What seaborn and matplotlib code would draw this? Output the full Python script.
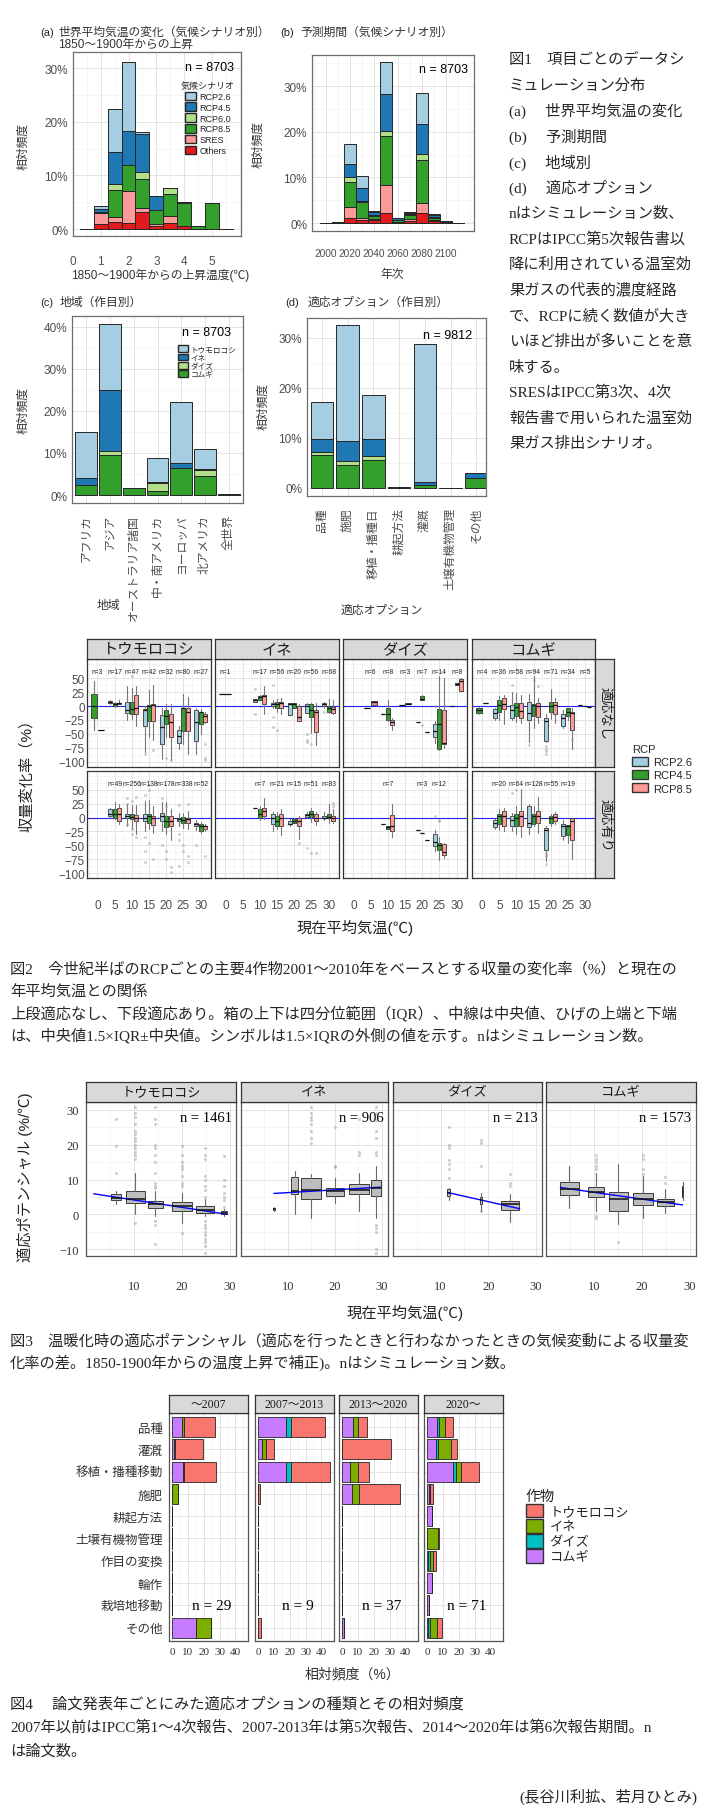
import matplotlib
matplotlib.use("Agg")
import matplotlib.pyplot as plt
from matplotlib.patches import Patch
from matplotlib.ticker import MultipleLocator
import seaborn as sns
import numpy as np

W, H = 705, 1815

sns.set_theme(style="whitegrid")
plt.rcParams["font.family"] = ["Liberation Sans", "Noto Sans CJK JP", "DejaVu Sans"]
SERIF = ["Liberation Serif", "Noto Sans CJK JP", "DejaVu Sans"]

# ---------------- Fig 1 data ----------------
scenarios = ["RCP2.6", "RCP4.5", "RCP6.0", "RCP8.5", "SRES", "Others"]

temp_bins = [0.5, 1.0, 1.5, 2.0, 2.5, 3.0, 3.5, 4.0, 4.5, 5.0, 5.5]
a_others = [0, 0.9, 1.4, 1.1, 3.1, 0.6, 1.05, 0.6, 0, 0, 0]
a_sres = [0, 2.1, 0.8, 6.0, 0.75, 0.3, 1.35, 0, 0, 0, 0]
a_rcp85 = [0, 0.2, 5.0, 4.9, 5.55, 2.7, 4.2, 4.2, 0.5, 4.9, 0]
a_rcp60 = [0, 0, 1.2, 0, 1.3, 0, 1.0, 0.3, 0, 0, 0]
a_rcp45 = [0, 0.6, 6.0, 6.2, 7.0, 2.5, 0, 0, 0, 0, 0]
a_rcp26 = [0, 0.4, 8.0, 13.0, 0.3, 0, 0.1, 0, 0, 0, 0]

years = [2000, 2010, 2020, 2030, 2040, 2050, 2060, 2070, 2080, 2090, 2100, 2110]
b_others = [0, 0.1, 1.2, 0.65, 0.6, 2.3, 0.3, 0.5, 2.3, 0.5, 0.2, 0]
b_sres = [0, 0, 2.2, 0.55, 0.2, 6.1, 0, 0.3, 2.1, 0.1, 0, 0]
b_rcp85 = [0, 0.2, 5.5, 3.5, 0.8, 10.7, 0.4, 1.0, 9.3, 0.6, 0.3, 0]
b_rcp60 = [0, 0, 1.2, 0.1, 0.2, 1.1, 0, 0.1, 1.4, 0.2, 0, 0]
b_rcp45 = [0, 0, 2.8, 2.8, 0.6, 8.0, 0.3, 0.3, 6.6, 0.4, 0, 0]
b_rcp26 = [0, 0, 4.3, 2.8, 0.2, 7.0, 0.1, 0.2, 6.7, 0.2, 0, 0]

crops = ["トウモロコシ", "イネ", "ダイズ", "コムギ"]

regions = ["アフリカ", "アジア", "オーストラリア諸国", "中・南アメリカ", "ヨーロッパ", "北アメリカ", "全世界"]
c_wheat = [2.4, 9.5, 1.6, 1.0, 6.5, 4.6, 0.3]
c_soy = [0, 0.9, 0, 1.9, 0, 1.3, 0]
c_rice = [1.7, 14.5, 0, 0.3, 1.0, 0.2, 0]
c_maize = [11.0, 15.7, 0, 5.7, 14.7, 4.8, 0]

options = ["品種", "施肥", "移植・播種日", "耕起方法", "灌漑", "土壌有機物管理", "その他"]
d_wheat = [6.6, 4.6, 5.6, 0, 0.7, 0, 2.0]
d_soy = [0.6, 0.8, 0.8, 0, 0, 0, 0]
d_rice = [2.7, 4.1, 3.5, 0.1, 0.5, 0, 1.0]
d_maize = [7.4, 23.1, 8.7, 0.1, 27.7, 0.1, 0]

# ---------------- Fig 2 data ----------------
# (temperature, rcp index, whisker low, q1, median, q3, whisker high)
rcps = ["RCP2.6", "RCP4.5", "RCP8.5"]
box_maize_no = [
    (0, 1, -43, -22, 0, 22, 44), (0, 2, -42, -42, -42, -42, -42),
    (5, 0, 4, 5, 7, 9, 10), (5, 1, -2, 0, 3, 6, 8), (5, 2, 3, 4, 5, 6, 10),
    (10, 0, -25, -12, -8, 8, 35), (10, 1, -24, -15, -6, 8, 32), (10, 2, -35, -14, -3, 19, 35),
    (15, 0, -82, -35, -7, -6, 0), (15, 1, -56, -26, 0, 2, 29), (15, 2, -60, -26, 2, 3, 38),
    (20, 0, -94, -68, -38, -16, -3), (20, 1, -56, -32, -18, -8, 3), (20, 2, -97, -55, -29, -14, 3),
    (25, 0, -76, -66, -54, -43, -35), (25, 1, -68, -45, -4, -3, 21), (25, 2, -85, -44, -10, -3, 16),
    (30, 0, -85, -62, -29, -8, -3), (30, 1, -50, -32, -11, -10, -5), (30, 2, -30, -29, -18, -15, -10),
]
box_rice_no = [
    (0, 1, 22, 22, 22, 22, 22),
    (10, 0, 8, 8, 10, 13, 13), (10, 1, 10, 11, 16, 17, 20), (10, 2, -15, 3, 18, 19, 35),
    (15, 0, -3, 0, 4, 6, 10), (15, 1, -10, -3, 4, 8, 12), (15, 2, -15, -4, 6, 8, 15),
    (20, 0, -16, -16, 3, 5, 5), (20, 1, -4, -4, 3, 5, 6), (20, 2, -26, -26, -19, 0, 3),
    (25, 0, -13, -13, 0, 3, 6), (25, 1, -48, -19, -8, 3, 5), (25, 2, -70, -47, -10, -8, 5),
    (30, 0, -3, 0, 3, 6, 8), (30, 1, -12, -10, -4, 0, 13), (30, 2, -14, -12, -6, -2, 10),
]
box_soy_no = [
    (5, 0, -3, -3, -3, -3, -3), (5, 2, 1, 1, 7, 9, 9),
    (10, 0, -15, -15, -15, -15, -15), (10, 1, -27, -25, -15, -4, 10), (10, 2, -43, -34, -28, -25, -21),
    (15, 0, 2, 2, 2, 2, 2), (15, 2, 3, 3, 4, 6, 6),
    (20, 0, -28, -28, -28, -28, -28), (20, 1, 10, 10, 13, 18, 20), (20, 2, -47, -47, -47, -47, -47),
    (25, 0, -67, -55, -45, -32, -26), (25, 1, -78, -76, -32, -6, 53), (25, 2, -75, -68, -66, -8, 50),
    (30, 0, 0, 0, 0, 0, 0), (30, 1, 37, 37, 39, 41, 41), (30, 2, 26, 26, 44, 49, 50),
]
box_wheat_no = [
    (0, 1, -15, -12, -8, -3, -2), (0, 2, 6, 6, 6, 6, 6),
    (5, 0, -25, -21, -12, -6, -3), (5, 1, -25, -10, 1, 10, 18), (5, 2, -33, -5, 4, 14, 20),
    (10, 0, -25, -21, -8, 2, 25), (10, 1, -28, -18, -2, 6, 24), (10, 2, -30, -22, -9, 6, 20),
    (15, 0, -65, -25, -12, 8, 22), (15, 1, -40, -18, 2, 4, 53), (15, 2, -30, -19, 0, 6, 15),
    (20, 0, -64, -62, -26, -22, -15), (20, 1, -23, -10, 0, 8, 30), (20, 2, -30, -15, 1, 8, 15),
    (25, 0, -40, -35, -22, -14, -7), (25, 1, -25, -18, -10, -3, -3), (25, 2, -76, -43, -12, -10, -3),
    (30, 0, 2, 2, 2, 2, 2), (30, 1, 0, 0, 0, 0, 0), (30, 2, -2, -2, -2, -2, -2),
]
box_maize_ad = [
    (5, 0, 0, 3, 7, 15, 18), (5, 1, -3, 0, 6, 16, 28), (5, 2, -12, -6, 6, 17, 25),
    (10, 0, -15, -1, 3, 6, 25), (10, 1, -20, -3, 1, 6, 22), (10, 2, -30, -7, 0, 5, 22),
    (15, 0, -25, -6, 0, 6, 30), (15, 1, -20, -10, 3, 6, 32), (15, 2, -28, -13, -1, 3, 20),
    (20, 0, -25, -7, 3, 9, 28), (20, 1, -30, -17, -6, 3, 28), (20, 2, -40, -15, -6, 3, 15),
    (25, 0, -15, -7, -3, 0, 8), (25, 1, -18, -9, -5, 1, 8), (25, 2, -20, -10, -3, 0, 12),
    (30, 0, -22, -16, -12, -9, -5), (30, 1, -28, -24, -15, -12, -8), (30, 2, -25, -20, -16, -15, -12),
]
box_rice_ad = [
    (10, 0, 17, 17, 17, 17, 17), (10, 1, -5, -1, 7, 15, 20), (10, 2, -3, 3, 12, 17, 35),
    (15, 0, -25, -12, 0, 6, 10), (15, 1, -20, -15, -7, 3, 10), (15, 2, -32, -15, 0, 6, 15),
    (20, 0, -15, -12, -11, -6, -3), (20, 1, -9, -9, -7, -3, 0), (20, 2, -38, -15, -7, 0, 3),
    (25, 0, 0, 1, 5, 7, 10), (25, 1, -8, 1, 7, 12, 18), (25, 2, -13, -7, 0, 6, 10),
    (30, 0, -5, -1, 0, 3, 10), (30, 1, -10, -1, 1, 7, 25), (30, 2, -10, -6, 0, 3, 15),
]
box_soy_ad = [
    (10, 0, -12, -12, -12, -12, -12), (10, 1, -20, -20, -17, -15, -15), (10, 2, -35, -24, -15, 5, 25),
    (20, 0, -23, -23, -23, -23, -23), (20, 1, -28, -28, -28, -28, -28), (20, 2, -40, -40, -40, -40, -40),
    (25, 0, -60, -51, -44, -30, -22), (25, 1, -77, -58, -50, -45, -35), (25, 2, -73, -67, -63, -48, -45),
]
box_wheat_ad = [
    (5, 0, -20, -17, -10, -5, -3), (5, 1, -22, -12, 3, 7, 15), (5, 2, -25, -15, 3, 12, 18),
    (10, 0, -25, -16, -5, 3, 8), (10, 1, -30, -15, 0, 6, 20), (10, 2, -35, -15, 3, 12, 52),
    (15, 0, -30, -17, -9, 20, 25), (15, 1, -15, -12, 3, 6, 20), (15, 2, -28, -10, 3, 12, 38),
    (20, 0, -78, -58, -23, -19, -15), (20, 1, -15, -9, -1, 3, 6), (20, 2, -12, -7, 1, 6, 10),
    (25, 0, -40, -34, -16, -12, -5), (25, 1, -45, -32, -15, -13, -13), (25, 2, -74, -40, -6, 0, 0),
]
# outliers: (temperature, rcp index, value)
out_maize_no = [(10, 1, 53), (15, 0, -85), (15, 2, -78), (20, 1, -93), (20, 2, -97), (30, 2, -68), (30, 2, -93), (30, 2, -97)]
out_rice_no = [(10, 0, 30), (10, 0, -15), (15, 0, -20), (15, 0, -38), (15, 1, -43), (15, 0, 38),
               (20, 2, -22), (25, 0, -50), (25, 0, -60), (25, 0, -65), (25, 1, -68), (30, 0, -10)]
out_soy_no = [(20, 1, -34), (25, 0, 0)]
out_wheat_no = [(10, 0, 38), (15, 1, 46), (15, 2, 35), (15, 0, -70), (20, 0, -72), (20, 0, -76),
                (20, 0, -80), (20, 0, -86), (25, 2, -59)]
out_maize_ad = [(10, 0, 25), (10, 0, 35), (10, 1, 30), (10, 2, 38), (10, 0, -12), (10, 1, -20), (10, 1, -30), (10, 2, -35),
                (15, 0, 40), (15, 1, 50), (15, 1, 58), (15, 0, -35), (15, 1, -45), (15, 0, -60), (15, 2, -75), (15, 0, -81),
                (20, 0, 35), (20, 1, 20), (20, 0, -50), (20, 1, -60), (20, 1, -75), (20, 2, -90), (20, 2, -98),
                (25, 0, 23), (25, 2, 25), (25, 0, -30), (25, 0, -40), (25, 1, -50), (25, 1, -60), (25, 2, -70), (25, 2, -80), (25, 0, -87),
                (30, 0, -50), (30, 2, -70)]
out_rice_ad = [(20, 2, -45), (25, 0, -55), (25, 1, -64), (25, 2, -64), (30, 2, 20), (30, 2, 26)]
out_soy_ad = [(25, 0, 3), (25, 1, -5), (25, 1, -7)]
out_wheat_ad = [(10, 0, 45), (10, 1, 50), (20, 0, -65), (20, 0, -70), (20, 0, -84)]

n_maize_no = [(0, 3), (5, 17), (10, 47), (15, 42), (20, 32), (25, 80), (30, 27)]
n_rice_no = [(0, 1), (10, 17), (15, 56), (20, 20), (25, 56), (30, 68)]
n_soy_no = [(5, 6), (10, 8), (15, 3), (20, 7), (25, 14), (30, 8)]
n_wheat_no = [(0, 4), (5, 36), (10, 58), (15, 94), (20, 71), (25, 34), (30, 5)]
n_maize_ad = [(5, 49), (10, 256), (15, 138), (20, 178), (25, 338), (30, 52)]
n_rice_ad = [(10, 7), (15, 21), (20, 15), (25, 51), (30, 83)]
n_soy_ad = [(10, 7), (20, 3), (25, 12)]
n_wheat_ad = [(5, 20), (10, 64), (15, 128), (20, 55), (25, 19)]

# ---------------- Fig 3 data ----------------
# (temperature, count, whisker low, q1, median, q3, whisker high)
pot_maize = [(6.2, 93, 2.9, 4.1, 4.6, 5.7, 6.7), (10.3, 354, 0.0, 3.2, 4.5, 6.7, 12.0),
             (14.5, 223, -0.5, 1.7, 2.9, 3.8, 6.7), (20.0, 430, -2.4, 1.0, 2.4, 3.4, 6.2),
             (24.8, 336, -0.5, 0.5, 1.2, 2.4, 4.3), (28.8, 28, -0.5, 0.0, 0.3, 1.0, 1.5)]
pot_rice = [(7.0, 2, 1.0, 1.2, 1.5, 1.8, 2.0), (11.4, 60, 0.0, 5.7, 6.7, 10.8, 12.4),
            (14.9, 430, -1.0, 4.5, 7.0, 10.5, 11.5), (20.0, 372, 3.3, 5.3, 6.7, 7.7, 10.5),
            (25.2, 410, 1.0, 5.7, 7.0, 8.8, 12.0), (28.7, 102, -1.0, 5.3, 7.7, 10.0, 14.0)]
pot_soy = [(11.7, 8, 4.0, 5.3, 6.2, 7.2, 7.7), (18.5, 2, 1.0, 3.0, 4.0, 5.0, 6.2),
           (24.6, 318, -2.2, 1.2, 2.9, 3.8, 5.7)]
pot_wheat = [(4.9, 335, 1.9, 5.5, 7.2, 9.3, 13.9), (10.4, 270, 1.0, 5.1, 6.4, 7.9, 12.0),
             (15.1, 372, -2.9, 1.0, 4.5, 6.5, 14.6), (20.3, 390, -1.0, 2.6, 4.5, 6.2, 11.0),
             (24.9, 290, 0.5, 2.4, 3.5, 4.5, 7.2), (28.5, 2, 4.1, 5.0, 6.5, 8.0, 9.3)]
# outliers: (box temperature, value)
pout_maize = [(6.2, 12), (6.2, 19.7), (6.2, 27.4)] + [(10.3, v) for v in (16, 17, 18, 19, 20, 21, 22, 23, 24, 26, 28, 29, 31, -2.5)] \
    + [(14.5, v) for v in (7.5, 8, 9, 12, 15, 17, 19, 20, 26, 27.5, 31, -2, -3, -8.6)] \
    + [(20.0, v) for v in (8, 9, 11, 13, 14, 15, 17, 19.6, -5.3)] \
    + [(24.8, v) for v in (5, 7, 8, 10, 11, 16, 17, 19, -2, -3, -4, -5, -6, -7, -8, -9, -11)] \
    + [(28.8, v) for v in (2, 4, 5, 6, 8, 10, 16.7)]
pout_rice = [(14.9, v) for v in (20.5, 22, 24, 26, 27, 28, 29, 31)] + [(20.0, v) for v in (13.5, 14, 25)] \
    + [(25.2, v) for v in (17, 18, 27.5)] + [(28.7, v) for v in (17, 18, 22, 24, 27, 29, 31, -3, -4, -5, -10, -11)]
pout_soy = [(11.7, v) for v in (10.5, 13, 14.5, 15.5, 19, 20, 25)] + [(18.5, v) for v in (14, 20.5, 21.5, 1)] \
    + [(24.6, v) for v in (8, 9, 11.5)]
pout_wheat = [(10.4, v) for v in (13, 14, 15, 16, 17, -0.5, -1)] + [(15.1, -8)] \
    + [(20.3, v) for v in (11.5, 13, 16, 17)] + [(24.9, v) for v in (9, 10.8)]
trend_maize = ([1.6, 29.4], [5.9, 0.0])
trend_rice = ([7.0, 29.7], [6.0, 7.8])
trend_soy = ([11.7, 26.6], [6.2, 1.6])
trend_wheat = ([3.0, 28.5], [7.7, 2.7])
pot_n = [1461, 906, 213, 1573]

# ---------------- Fig 4 data ----------------
periods = ["～2007", "2007～2013", "2013～2020", "2020～"]
options4 = ["品種", "灌漑", "移植・播種移動", "施肥", "耕起方法", "土壌有機物管理", "作目の変換", "輪作", "栽培地移動", "その他"]
p1_wheat = [6.3, 1.2, 6.6, 0, 0, 0, 0, 0, 0, 14.8]
p1_soy = [0, 0, 0, 0, 0, 0, 0, 0, 0, 0]
p1_rice = [1.2, 0.8, 0.6, 3.5, 0, 0, 0, 0, 0, 10.0]
p1_maize = [19.6, 17.6, 20.5, 0, 0, 0, 0, 0, 0, 0]
p2_wheat = [17.6, 2.3, 17.6, 0, 0, 0, 0, 0, 0, 0]
p2_soy = [2.9, 0, 2.9, 0, 0, 0, 0, 0, 0, 0]
p2_rice = [0, 2.6, 0, 0, 0, 0, 0, 0, 0, 0]
p2_maize = [21.9, 5.2, 25.1, 1.2, 0, 0, 0, 0, 0, 1.5]
p3_wheat = [6.6, 0, 5.2, 6.1, 0, 0, 0, 0, 0, 1.4]
p3_soy = [0, 0, 0, 0, 0, 0, 0, 0, 0, 0]
p3_rice = [3.2, 0, 4.6, 4.6, 0, 0, 0, 0, 0, 0]
p3_maize = [5.8, 31.2, 6.9, 26.2, 0, 0, 0, 0, 0, 0]
p4_wheat = [6.3, 5.8, 16.4, 1.0, 2.9, 0, 0.6, 2.9, 1.2, 0.5]
p4_soy = [1.2, 1.1, 1.8, 0, 0, 0, 1.0, 0, 0, 1.5]
p4_rice = [4.0, 8.4, 3.4, 1.0, 0, 6.6, 2.0, 0, 0, 4.3]
p4_maize = [4.9, 3.7, 11.0, 1.8, 0, 0.6, 2.2, 0, 0, 3.2]
paper_n = [29, 9, 37, 71]

# ---------------- helpers ----------------
fig = plt.figure(figsize=(W / 100, H / 100), dpi=100)


def px_axes(l, t, r, b):
    return fig.add_axes([l / W, 1 - b / H, (r - l) / W, (b - t) / H])


def ftext(x, y, s, **kw):
    kw.setdefault("va", "center")
    fig.text(x / W, 1 - y / H, s, **kw)


def panel(ax, edge="#6e6e6e"):
    ax.set_facecolor("white")
    for sp in ax.spines.values():
        sp.set_visible(True)
        sp.set_color(edge)
        sp.set_linewidth(0.9)
    ax.grid(True, which="major", color="#e3e3e3", lw=0.7)
    ax.grid(True, which="minor", color="#f1f1f1", lw=0.5)
    ax.set_axisbelow(True)
    ax.tick_params(which="both", length=0, colors="#4d4d4d")


def strip(l, t, r, b, label, rot=0, size=9, family=None):
    s = px_axes(l, t, r, b)
    s.set_facecolor("#d9d9d9")
    s.set_xticks([]); s.set_yticks([])
    s.grid(False)
    for sp in s.spines.values():
        sp.set_visible(True); sp.set_color("#333333"); sp.set_linewidth(0.9)
    kw = {"family": family} if family else {}
    s.text(0.5, 0.5, label, ha="center", va="center", rotation=rot, fontsize=size,
           transform=s.transAxes, color="#1a1a1a", **kw)


def stack(ax, pos, layers, colors, width, horizontal=False, lw=0.7):
    base = np.zeros(len(pos))
    for name, vals in layers:
        vals = np.asarray(vals, float)
        if horizontal:
            ax.barh(pos, vals, height=width, left=base, color=colors[name], edgecolor="#262626", linewidth=lw)
        else:
            ax.bar(pos, vals, width=width, bottom=base, color=colors[name], edgecolor="#262626", linewidth=lw)
        base += vals


paired = sns.color_palette("Paired", 6)
scen_colors = dict(zip(scenarios, paired))
crop_colors = dict(zip(crops, paired[:4]))

# ---------------- Fig 1 ----------------
pct = lambda vals: [f"{v}%" for v in vals]

ax = px_axes(73, 53, 241, 237)
panel(ax)
stack(ax, temp_bins, [("Others", a_others), ("SRES", a_sres), ("RCP8.5", a_rcp85),
                      ("RCP6.0", a_rcp60), ("RCP4.5", a_rcp45), ("RCP2.6", a_rcp26)], scen_colors, 0.5)
ax.set_xlim(0, 6.05); ax.set_ylim(-1.3, 33)
ax.set_xticks(range(6)); ax.set_yticks([0, 10, 20, 30]); ax.set_yticklabels(pct([0, 10, 20, 30]))
ax.xaxis.set_minor_locator(MultipleLocator(0.5)); ax.yaxis.set_minor_locator(MultipleLocator(5))
ax.tick_params(labelsize=8.5)
ax.tick_params(axis="x", pad=14)
ax.text(0.96, 0.92, "n = 8703", transform=ax.transAxes, ha="right", va="center", fontsize=9, color="black")
ax.legend(handles=[Patch(facecolor=scen_colors[s], edgecolor="#262626", label=s) for s in scenarios],
          title="気候シナリオ", loc="upper left", bbox_to_anchor=(0.62, 0.86), frameon=False,
          fontsize=6.5, title_fontsize=6.5, handlelength=1.2, handleheight=1.1, labelspacing=0.15,
          handletextpad=0.4, borderaxespad=0)
ftext(40, 33, "(a)", fontsize=8)
ftext(58, 33, "世界平均気温の変化（気候シナリオ別）", fontsize=8.5, color="#333333")
ftext(58, 45, "1850～1900年からの上昇", fontsize=8.5, color="#333333")
ftext(160, 275, "1850～1900年からの上昇温度(℃)", fontsize=8.5, ha="center", color="#333333")
ftext(23, 147, "相対頻度", fontsize=8.5, rotation=90, ha="center", color="#333333")

ax = px_axes(312, 56, 474, 232)
panel(ax)
stack(ax, years, [("Others", b_others), ("SRES", b_sres), ("RCP8.5", b_rcp85),
                  ("RCP6.0", b_rcp60), ("RCP4.5", b_rcp45), ("RCP2.6", b_rcp26)], scen_colors, 10)
ax.set_xlim(1988.3, 2123.3); ax.set_ylim(-1.75, 36.8)
ax.set_xticks(range(2000, 2101, 20)); ax.set_yticks([0, 10, 20, 30]); ax.set_yticklabels(pct([0, 10, 20, 30]))
ax.xaxis.set_minor_locator(MultipleLocator(10)); ax.yaxis.set_minor_locator(MultipleLocator(5))
ax.tick_params(axis="y", labelsize=8.5)
ax.tick_params(axis="x", labelsize=7.3, pad=12)
ax.text(0.96, 0.92, "n = 8703", transform=ax.transAxes, ha="right", va="center", fontsize=9, color="black")
ftext(280, 33, "(b)", fontsize=8)
ftext(300, 33, "予測期間（気候シナリオ別）", fontsize=8.5, color="#333333")
ftext(392, 275, "年次", fontsize=8.5, ha="center", color="#333333")
ftext(258, 145, "相対頻度", fontsize=8.5, rotation=90, ha="center", color="#333333")

crop_layers = lambda w, s, r, m: [("コムギ", w), ("ダイズ", s), ("イネ", r), ("トウモロコシ", m)]

ax = px_axes(72, 317, 243, 504)
panel(ax)
stack(ax, np.arange(len(regions)), crop_layers(c_wheat, c_soy, c_rice, c_maize), crop_colors, 0.92)
ax.set_xlim(-0.59, 6.59); ax.set_ylim(-1.9, 42.6)
ax.set_xticks(np.arange(len(regions))); ax.set_xticklabels(regions, rotation=90, fontsize=8.5, va="top")
ax.set_yticks([0, 10, 20, 30, 40]); ax.set_yticklabels(pct([0, 10, 20, 30, 40]), fontsize=8.5)
ax.yaxis.set_minor_locator(MultipleLocator(5))
ax.tick_params(axis="x", pad=8)
ax.text(0.93, 0.915, "n = 8703", transform=ax.transAxes, ha="right", va="center", fontsize=9, color="black")
ax.legend(handles=[Patch(facecolor=crop_colors[c], edgecolor="#262626", label=c) for c in crops],
          loc="upper left", bbox_to_anchor=(0.6, 0.86), frameon=False, fontsize=5.5,
          handlelength=1.4, handleheight=1.0, labelspacing=0.05, handletextpad=0.3, borderaxespad=0)
ftext(40, 303, "(c)", fontsize=8)
ftext(60, 303, "地域（作目別）", fontsize=8.5, color="#333333")
ftext(108, 606, "地域", fontsize=8.5, ha="center", color="#333333")
ftext(23, 410, "相対頻度", fontsize=8.5, rotation=90, ha="center", color="#333333")

ax = px_axes(307, 319, 486, 497)
panel(ax)
stack(ax, np.arange(len(options)), crop_layers(d_wheat, d_soy, d_rice, d_maize), crop_colors, 0.87)
ax.set_xlim(-0.58, 6.38); ax.set_ylim(-1.6, 34)
ax.set_xticks(np.arange(len(options))); ax.set_xticklabels(options, rotation=90, fontsize=8.5, va="top")
ax.set_yticks([0, 10, 20, 30]); ax.set_yticklabels(pct([0, 10, 20, 30]), fontsize=8.5)
ax.yaxis.set_minor_locator(MultipleLocator(5))
ax.tick_params(axis="x", pad=8)
ax.text(0.92, 0.905, "n = 9812", transform=ax.transAxes, ha="right", va="center", fontsize=9, color="black")
ftext(285, 303, "(d)", fontsize=8)
ftext(308, 303, "適応オプション（作目別）", fontsize=8.5, color="#333333")
ftext(382, 611, "適応オプション", fontsize=8.5, ha="center", color="#333333")
ftext(263, 407, "相対頻度", fontsize=8.5, rotation=90, ha="center", color="#333333")

fig1_note = ["図1　項目ごとのデータシ", "ミュレーション分布", "(a)　 世界平均気温の変化", "(b)　 予測期間",
             "(c)　 地域別", "(d)　 適応オプション", "nはシミュレーション数、", "RCPはIPCC第5次報告書以",
             "降に利用されている温室効", "果ガスの代表的濃度経路", "で、RCPに続く数値が大き",
             "いほど排出が多いことを意", "味する。", "SRESはIPCC第3次、4次", "報告書で用いられた温室効",
             "果ガス排出シナリオ。"]
for i, line in enumerate(fig1_note):
    ftext(509, 60 + 25.6 * i, line, fontsize=11, family=SERIF)

# ---------------- Fig 2 ----------------
fig2_cols = [(87, 211), (215, 339), (343, 467), (472, 595)]
fig2_rows = [(660, 768), (772, 879)]
fig2_boxes = [[box_maize_no, box_rice_no, box_soy_no, box_wheat_no],
              [box_maize_ad, box_rice_ad, box_soy_ad, box_wheat_ad]]
fig2_out = [[out_maize_no, out_rice_no, out_soy_no, out_wheat_no],
            [out_maize_ad, out_rice_ad, out_soy_ad, out_wheat_ad]]
fig2_n = [[n_maize_no, n_rice_no, n_soy_no, n_wheat_no],
          [n_maize_ad, n_rice_ad, n_soy_ad, n_wheat_ad]]
rcp_colors = {"RCP2.6": "#a6cee3", "RCP4.5": "#33a02c", "RCP8.5": "#fb9a99"}
dodge = 3.8

for ri, (t, b) in enumerate(fig2_rows):
    for ci, (l, r) in enumerate(fig2_cols):
        ax = px_axes(l, t, r, b)
        panel(ax, edge="#333333")
        rows = fig2_boxes[ri][ci]
        outs = fig2_out[ri][ci]
        for temp in sorted(set(x[0] for x in rows)):
            grp = sorted([x for x in rows if x[0] == temp], key=lambda x: x[1])
            k = len(grp)
            for j, (tt, rc, lo, q1, med, q3, hi) in enumerate(grp):
                pos = temp + (j - (k - 1) / 2) * dodge / k
                st = dict(whislo=lo, q1=q1, med=med, q3=q3, whishi=hi,
                          fliers=[v for (ot, orc, v) in outs if ot == temp and orc == rc])
                ax.bxp([st], positions=[pos], widths=[dodge / k * 0.92], patch_artist=True, showcaps=False,
                       manage_ticks=False,
                       boxprops=dict(facecolor=rcp_colors[rcps[rc]], edgecolor="#333333", linewidth=0.6),
                       medianprops=dict(color="#111111", linewidth=0.9),
                       whiskerprops=dict(color="#777777", linewidth=0.8),
                       flierprops=dict(marker="o", markersize=2.2, markerfacecolor="#9a9a9a",
                                       markeredgecolor="none", alpha=0.45))
        for temp, n in fig2_n[ri][ci]:
            ax.text(temp, 61, f"n={n}", ha="center", va="center", fontsize=4.8, color="#222222")
        ax.axhline(0, color="#2222ee", lw=0.8, zorder=1.5)
        ax.set_xlim(-3, 33); ax.set_ylim(-109, 84)
        ax.set_xticks(range(0, 31, 5)); ax.set_yticks([50, 25, 0, -25, -50, -75, -100])
        ax.xaxis.set_minor_locator(MultipleLocator(2.5)); ax.yaxis.set_minor_locator(MultipleLocator(12.5))
        ax.tick_params(labelsize=8.5, pad=1.5)
        ax.tick_params(axis="x", pad=15)
        if ci > 0:
            ax.set_yticklabels([])
        if ri == 0:
            ax.set_xticklabels([])
            strip(l, 640, r, 660, crops[ci], size=11)
    strip(595, t, 614, b, ["適応なし", "適応有り"][ri], rot=-90, size=9.5)

fig.legend(handles=[Patch(facecolor=rcp_colors[c], edgecolor="#333333", label=c) for c in rcps],
           title="RCP", loc="upper left", bbox_to_anchor=(622 / W, 1 - 735 / H), frameon=False,
           fontsize=8, title_fontsize=8, handlelength=1.4, handleheight=0.9, labelspacing=0.25,
           handletextpad=0.5, alignment="left")
ftext(27, 772, "収量変化率（%）", fontsize=11, rotation=90, ha="center", color="#222222")
ftext(355, 928, "現在平均気温(℃)", fontsize=11, ha="center", color="#222222")

fig2_caption = ["図2　今世紀半ばのRCPごとの主要4作物2001～2010年をベースとする収量の変化率（%）と現在の",
                "年平均気温との関係",
                "上段適応なし、下段適応あり。箱の上下は四分位範囲（IQR）、中線は中央値、ひげの上端と下端",
                "は、中央値1.5×IQR±中央値。シンボルは1.5×IQRの外側の値を示す。nはシミュレーション数。"]
for i, line in enumerate(fig2_caption):
    ftext(10, 969 + 22.3 * i, line, fontsize=11, family=SERIF)

# ---------------- Fig 3 ----------------
fig3_cols = [(86, 236), (241, 388), (393, 542), (546, 696)]
pot_boxes = [pot_maize, pot_rice, pot_soy, pot_wheat]
pot_outs = [pout_maize, pout_rice, pout_soy, pout_wheat]
trends = [trend_maize, trend_rice, trend_soy, trend_wheat]
for ci, (l, r) in enumerate(fig3_cols):
    ax = px_axes(l, 1103, r, 1257)
    panel(ax, edge="#555555")
    for (temp, cnt, lo, q1, med, q3, hi) in pot_boxes[ci]:
        st = dict(whislo=lo, q1=q1, med=med, q3=q3, whishi=hi,
                  fliers=[v for (ot, v) in pot_outs[ci] if ot == temp])
        ax.bxp([st], positions=[temp], widths=[4.4 * np.sqrt(cnt / 450)], patch_artist=True, showcaps=False,
               manage_ticks=False,
               boxprops=dict(facecolor="#bdbdbd", edgecolor="#3a3a3a", linewidth=0.7),
               medianprops=dict(color="#111111", linewidth=1.1),
               whiskerprops=dict(color="#6a6a6a", linewidth=0.8),
               flierprops=dict(marker="o", markersize=2.3, markerfacecolor="#8a8a8a",
                               markeredgecolor="none", alpha=0.4))
    sns.lineplot(x=trends[ci][0], y=trends[ci][1], ax=ax, color="#0000ff", lw=1.0)
    ax.text(0.97, 0.9, f"n = {pot_n[ci]}", transform=ax.transAxes, ha="right", va="center",
            fontsize=10.5, family=SERIF, color="black")
    ax.set_xlim(0, 31.3); ax.set_ylim(-12, 32.3)
    ax.set_xticks([10, 20, 30]); ax.set_yticks([-10, 0, 10, 20, 30])
    ax.xaxis.set_minor_locator(MultipleLocator(5)); ax.yaxis.set_minor_locator(MultipleLocator(5))
    ax.tick_params(axis="x", which="major", length=3, color="#333333", direction="out", pad=14)
    ax.tick_params(axis="y", which="major", length=3, color="#333333", direction="out", pad=2)
    for lab in ax.get_xticklabels() + ax.get_yticklabels():
        lab.set_family(SERIF); lab.set_fontsize(9); lab.set_color("#333333")
    if ci > 0:
        ax.set_yticklabels([])
    strip(l, 1083, r, 1103, crops[ci], size=9.5)
ftext(25, 1177, "適応ポテンシャル (%/℃)", fontsize=11, rotation=90, ha="center", color="#222222")
ftext(405, 1313, "現在平均気温(℃)", fontsize=11, ha="center", color="#222222")
fig3_caption = ["図3　温暖化時の適応ポテンシャル（適応を行ったときと行わなかったときの気候変動による収量変",
                "化率の差。1850-1900年からの温度上昇で補正)。nはシミュレーション数。"]
for i, line in enumerate(fig3_caption):
    ftext(10, 1341 + 22.3 * i, line, fontsize=11, family=SERIF)

# ---------------- Fig 4 ----------------
crop4_colors = {"トウモロコシ": "#F8766D", "イネ": "#7CAE00", "ダイズ": "#00BFC4", "コムギ": "#C77CFF"}
fig4_cols = [(169, 248), (255, 334), (339, 418), (424, 503)]
fig4_data = [(p1_wheat, p1_soy, p1_rice, p1_maize), (p2_wheat, p2_soy, p2_rice, p2_maize),
             (p3_wheat, p3_soy, p3_rice, p3_maize), (p4_wheat, p4_soy, p4_rice, p4_maize)]
for ci, (l, r) in enumerate(fig4_cols):
    ax = px_axes(l, 1414, r, 1642)
    panel(ax, edge="#555555")
    w, s, rr, m = fig4_data[ci]
    stack(ax, np.arange(len(options4)), crop_layers(w, s, rr, m), crop4_colors, 0.9, horizontal=True, lw=0.6)
    ax.set_xlim(-2, 48); ax.set_ylim(9.6, -0.63)
    ax.set_xticks(range(0, 41, 10)); ax.set_yticks(np.arange(len(options4)))
    ax.xaxis.set_minor_locator(MultipleLocator(5))
    ax.grid(False, which="minor", axis="y")
    ax.tick_params(axis="x", length=2.5, color="#333333", direction="out", pad=1.5)
    for lab in ax.get_xticklabels():
        lab.set_family(SERIF); lab.set_fontsize(8); lab.set_color("#333333")
    if ci == 0:
        ax.set_yticklabels(options4, fontsize=9, color="#333333")
        ax.tick_params(axis="y", length=2.5, color="#333333", direction="out", pad=2)
    else:
        ax.set_yticklabels([])
    ax.text(25, 8, f"n = {paper_n[ci]}", ha="center", va="center", fontsize=11, family=SERIF, color="black")
    strip(l, 1396, r, 1414, periods[ci], size=8.5, family=SERIF)

fig.legend(handles=[Patch(facecolor=crop4_colors[c], edgecolor="#333333", label=c) for c in crops],
           title="作物", loc="upper left", bbox_to_anchor=(514 / W, 1 - 1478 / H), frameon=False,
           fontsize=9.5, title_fontsize=10.5, handlelength=1.3, handleheight=1.25, labelspacing=0.05,
           handletextpad=0.5, alignment="left")
ftext(352, 1674, "相対頻度（%）", fontsize=10, ha="center", color="#333333")
fig4_caption = ["図4　 論文発表年ごとにみた適応オプションの種類とその相対頻度",
                "2007年以前はIPCC第1～4次報告、2007-2013年は第5次報告、2014～2020年は第6次報告期間。n",
                "は論文数。"]
for i, line in enumerate(fig4_caption):
    ftext(10, 1704 + 23.5 * i, line, fontsize=11, family=SERIF)
ftext(697, 1797, "(長谷川利拡、若月ひとみ)", fontsize=11, ha="right", family=SERIF)

fig.savefig("out.png", dpi=100)
